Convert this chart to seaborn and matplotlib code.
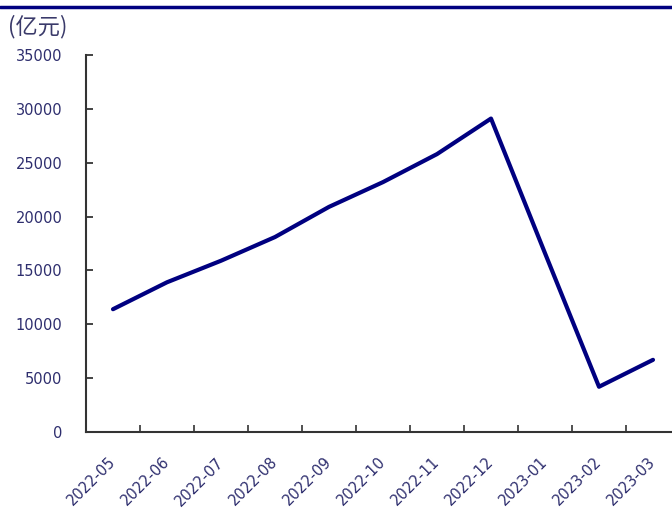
import matplotlib
matplotlib.use("Agg")
import matplotlib.pyplot as plt
from matplotlib.lines import Line2D
from matplotlib.ticker import FixedLocator
import seaborn as sns
import pandas as pd

months = ["2022-05", "2022-06", "2022-07", "2022-08", "2022-09", "2022-10",
          "2022-11", "2022-12", "2023-01", "2023-02", "2023-03"]
values = [11400, 13900, 15900, 18100, 20900, 23200, 25800, 29100, 16600, 4200, 6700]
y_ticks = [0, 5000, 10000, 15000, 20000, 25000, 30000, 35000]

sns.set_theme(style="white")
plt.rcParams["font.family"] = ["DejaVu Sans", "Noto Sans CJK SC"]

navy = "#000080"
label_color = "#2e2e6e"

df = pd.DataFrame({"month": months, "value": values})

fig = plt.figure(figsize=(6.72, 5.12), dpi=100)
ax = fig.add_axes([86 / 672, 80 / 512, 594 / 672, 377 / 512])
sns.lineplot(data=df, x="month", y="value", ax=ax, color=navy, linewidth=3.0,
             sort=False)

ax.set_xlim(-0.5, len(months) - 0.5)
ax.set_ylim(0, 35000)
ax.set_yticks(y_ticks)
ax.set_yticklabels([str(v) for v in y_ticks], color=label_color, fontsize=10.5)
ax.set_xticks(range(len(months)))
ax.set_xticklabels(months, rotation=45, ha="right", va="center",
                   rotation_mode="anchor", color=label_color, fontsize=10.5)
ax.xaxis.set_minor_locator(FixedLocator([i + 0.5 for i in range(len(months) - 1)]))
ax.tick_params(axis="x", which="major", length=0, pad=20)
ax.tick_params(axis="x", which="minor", direction="in", length=5, width=1.2,
               color="#333333", bottom=True)
ax.tick_params(axis="y", which="major", direction="in", length=5, width=1.2,
               color="#222222", left=True, pad=17)
ax.set_xlabel("")
ax.set_ylabel("")
for side in ("top", "right"):
    ax.spines[side].set_visible(False)
for side in ("left", "bottom"):
    ax.spines[side].set_color("#333333")
    ax.spines[side].set_linewidth(1.5)

fig.text(0.012, 1 - 27 / 512, "(亿元)", fontsize=16, color="#3a3a6a",
         family=["Noto Sans CJK SC", "DejaVu Sans"], ha="left", va="center")
fig.add_artist(Line2D([0, 1], [1 - 7 / 512, 1 - 7 / 512], color=navy,
                      linewidth=2.5, transform=fig.transFigure))

fig.savefig("out.png", dpi=100, facecolor="white")
